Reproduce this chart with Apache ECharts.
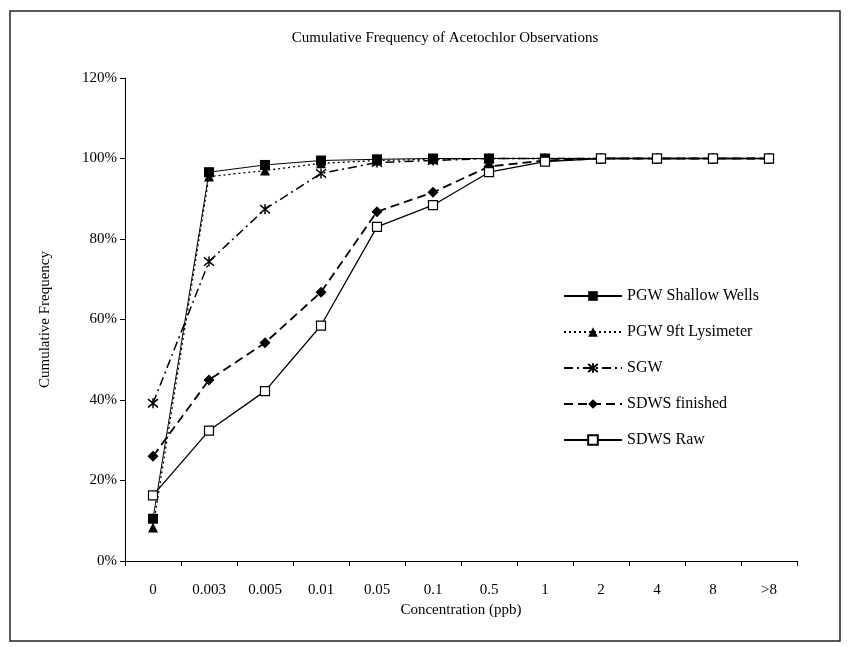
<!DOCTYPE html>
<html><head><meta charset="utf-8">
<script src="https://cdn.jsdelivr.net/npm/echarts@6/dist/echarts.min.js"></script>
<style>html,body{margin:0;padding:0;background:#fff}#c{width:851px;height:647px}</style>
</head><body><div id="c"></div>
<script>
const categories = ['0','0.003','0.005','0.01','0.05','0.1','0.5','1','2','4','8','>8'];
const pgwShallow = [10.5, 96.6, 98.4, 99.5, 99.8, 100, 100, 100, 100, 100, 100, 100];
const pgw9ft     = [8.3, 95.5, 97.0, 98.8, 99.5, 99.8, 100, 100, 100, 100, 100, 100];
const sgw        = [39.2, 74.4, 87.4, 96.3, 99.0, 99.5, 100, 100, 100, 100, 100, 100];
const sdwsFin    = [26.0, 45.0, 54.2, 66.8, 86.8, 91.6, 98.0, 99.5, 100, 100, 100, 100];
const sdwsRaw    = [16.3, 32.4, 42.2, 58.5, 83.0, 88.4, 96.6, 99.2, 100, 100, 100, 100];
const yTicks = [0, 20, 40, 60, 80, 100, 120];

const font = 'Liberation Serif';
const star = 'path://M0,0L10,10M10,0L0,10M5,-1L5,11';
function mk(name, data, symbol, size, lineType, width, extra) {
  return Object.assign({
    name, type: 'line', data, symbol, symbolSize: size,
    lineStyle: {color: '#000', width: width, type: lineType},
    itemStyle: {color: '#000', borderColor: '#000', borderWidth: 0},
    emphasis: {disabled: true}, animation: false, z: 3
  }, extra || {});
}
const chart = echarts.init(document.getElementById('c'), null, {renderer: 'canvas'});
chart.setOption({
  backgroundColor: '#fff',
  animation: false,
  title: {text: 'Cumulative Frequency of Acetochlor Observations', left: 440, top: 26, textAlign: 'center',
    textStyle: {fontFamily: font, fontSize: 15, fontWeight: 'normal', color: '#000'}},
  graphic: [{type: 'rect', shape: {x: 10, y: 11, width: 830, height: 630}, style: {fill: 'none', stroke: '#222', lineWidth: 1.5}, silent: true}],
  legend: {
    orient: 'vertical', left: 558, top: 283, itemGap: 20, itemWidth: 58, itemHeight: 12,
    textStyle: {fontFamily: font, fontSize: 16, color: '#000'},
    data: ['PGW Shallow Wells', 'PGW 9ft Lysimeter', 'SGW', 'SDWS finished', 'SDWS Raw']
  },
  grid: {left: 125, right: 54, top: 78, bottom: 86},
  xAxis: {
    type: 'category', data: categories, boundaryGap: true,
    name: 'Concentration (ppb)', nameLocation: 'middle', nameGap: 41,
    nameTextStyle: {fontFamily: font, fontSize: 15, color: '#000'},
    axisLine: {lineStyle: {color: '#000', width: 1}},
    axisTick: {show: true, inside: false, length: 5, alignWithLabel: false, lineStyle: {color: '#000'}},
    axisLabel: {fontFamily: font, fontSize: 15, color: '#000', margin: 22},
    splitLine: {show: false}
  },
  yAxis: {
    type: 'value', min: 0, max: 120, interval: 20,
    name: 'Cumulative Frequency', nameLocation: 'middle', nameGap: 72,
    nameTextStyle: {fontFamily: font, fontSize: 15, color: '#000'},
    axisLine: {show: true, lineStyle: {color: '#000', width: 1}},
    axisTick: {show: true, inside: false, length: 5, lineStyle: {color: '#000'}},
    axisLabel: {fontFamily: font, fontSize: 15, color: '#000', margin: 8,
      formatter: v => yTicks.includes(v) ? v + '%' : ''},
    splitLine: {show: false}
  },
  series: [
    mk('PGW Shallow Wells', pgwShallow, 'rect', 10, 'solid', 1),
    mk('PGW 9ft Lysimeter', pgw9ft, 'triangle', 10, [2, 3], 1.3),
    mk('SGW', sgw, star, 10, [9, 4, 2, 4], 1.5, {itemStyle: {color: 'none', borderColor: '#000', borderWidth: 1.5}}),
    mk('SDWS finished', sdwsFin, 'diamond', 11, [9, 5], 1.8),
    mk('SDWS Raw', sdwsRaw, 'rect', 9, 'solid', 1.3, {itemStyle: {color: '#fff', borderColor: '#000', borderWidth: 1.2}})
  ]
});
</script></body></html>
